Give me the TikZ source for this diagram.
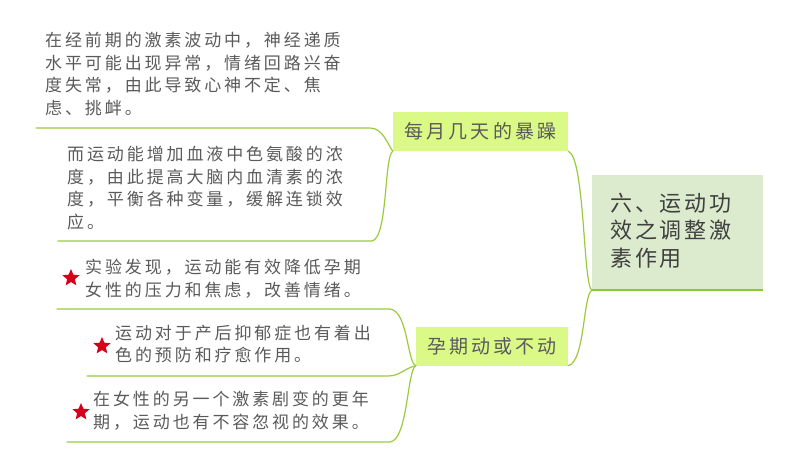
\documentclass[tikz,border=0pt]{standalone}
\usepackage{fontspec}
\usetikzlibrary{shapes.geometric}
\newfontfamily\cjkleaf[LetterSpace=17]{Noto Sans CJK SC}
\newfontfamily\cjkbranch[LetterSpace=16]{Noto Sans CJK SC}
\newfontfamily\cjkmain[LetterSpace=13]{Noto Sans CJK SC}
\definecolor{limefill}{HTML}{DAF986}
\definecolor{mainfill}{HTML}{DCEBCE}
\definecolor{linegreen}{HTML}{9BCB3C}
\definecolor{mainborder}{HTML}{8DC63F}
\definecolor{leaftext}{HTML}{5A5A5A}
\definecolor{maintext}{HTML}{404040}
\definecolor{starred}{HTML}{D7001A}
\tikzset{
  leaf/.style={anchor=west, inner sep=0pt, align=left, text=leaftext,
    font=\cjkleaf\fontsize{17}{22.7}\selectfont},
  branchbox/.style={rectangle, fill=limefill, inner sep=0pt, text=leaftext,
    minimum width=175, minimum height=39, font=\cjkbranch\fontsize{19}{22}\selectfont},
  mainbox/.style={rectangle, fill=mainfill, inner sep=0pt, minimum width=171, minimum height=115},
  maintxt/.style={anchor=west, inner sep=0pt, align=left, text=maintext,
    font=\cjkmain\fontsize{22}{27.5}\selectfont},
  conn/.style={draw=linegreen, line width=1.2pt, line cap=round},
  starmark/.style={star, star points=5, star point ratio=2.2, fill=starred,
    draw=none, minimum size=18, inner sep=0pt},
}
\begin{document}
\begin{tikzpicture}[x=1pt,y=-1pt]
\useasboundingbox (0,0) rectangle (800,463);
% central topic
\node[mainbox] (c) at (677.5,232.5) {};
\draw[draw=mainborder, line width=2.5pt] (c.south west) -- (c.south east);
\node[maintxt] (ct) at (610,230.5) {六、运动功\\效之调整激\\素作用};
% branches
\node[branchbox] (b1) at (480.5,131.5) {每月几天的暴躁};
\node[branchbox, minimum width=152] (b2) at (492,346) {孕期动或不动};
% central -> branches
\draw[conn] (c.south west) .. controls (583,285) and (585,157) .. (b1.south east);
\draw[conn] (c.south west) .. controls (583,295) and (585,362) .. (b2.south east);
% leaves
\node[leaf] (l1) at (45,74) {在经前期的激素波动中，神经递质\\水平可能出现异常，情绪回路兴奋\\度失常，由此导致心神不定、焦\\虑、挑衅。};
\node[leaf] (l2) at (67,188) {而运动能增加血液中色氨酸的浓\\度，由此提高大脑内血清素的浓\\度，平衡各种变量，缓解连锁效\\应。};
\node[leaf] (l3) at (85,278.5) {实验发现，运动能有效降低孕期\\女性的压力和焦虑，改善情绪。};
\node[leaf] (l4) at (115,344) {运动对于产后抑郁症也有着出\\色的预防和疗愈作用。};
\node[leaf] (l5) at (93,411) {在女性的另一个激素剧变的更年\\期，运动也有不容忽视的效果。};
% stars
\node[starmark] (s3) at (71,278) {};
\node[starmark] (s4) at (102,346) {};
\node[starmark] (s5) at (81,412) {};
% underline end points
\coordinate (u1a) at (36,128);  \coordinate (u1b) at (370,128);
\coordinate (u2a) at (58,241);  \coordinate (u2b) at (372,241);
\coordinate (u3a) at (57,309);  \coordinate (u3b) at (390,309);
\coordinate (u4a) at (87,376);  \coordinate (u4b) at (388,376);
\coordinate (u5a) at (67,442);  \coordinate (u5b) at (390,442);
% branch -> leaves
\draw[conn] (b1.south west) .. controls (388,145) and (383,128) .. (u1b) -- (u1a);
\draw[conn] (b1.south west) .. controls (384,156) and (388,238) .. (u2b) -- (u2a);
\draw[conn] (b2.south west) .. controls (407,362) and (408,311) .. (u3b) -- (u3a);
\draw[conn] (b2.south west) .. controls (405,368) and (400,376) .. (u4b) -- (u4a);
\draw[conn] (b2.south west) .. controls (407,370) and (408,440) .. (u5b) -- (u5a);
\end{tikzpicture}
\end{document}
